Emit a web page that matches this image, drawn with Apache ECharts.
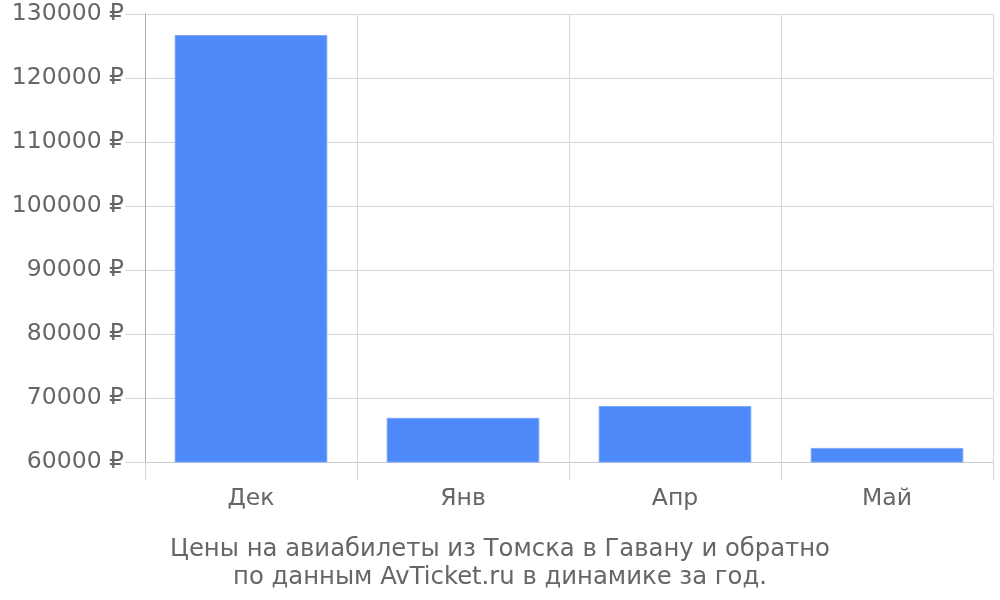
<!DOCTYPE html>
<html><head><meta charset="utf-8">
<script src="https://cdn.jsdelivr.net/npm/echarts@6/dist/echarts.min.js"></script>
<style>html,body{margin:0;padding:0;background:#fff}#c{width:1000px;height:600px}</style>
</head><body><div id="c"></div>
<script>
const categories = ['Дек', 'Янв', 'Апр', 'Май'];
const prices = [126700, 66900, 68750, 62200];
const yTicks = { min: 60000, max: 130000, interval: 10000 };
const titleLines = ['Цены на авиабилеты из Томска в Гавану и обратно', 'по данным AvTicket.ru в динамике за год.'];

const font = 'DejaVu Sans';
const chart = echarts.init(document.getElementById('c'), null, { renderer: 'canvas' });
chart.setOption({
  animation: false,
  backgroundColor: '#fff',
  title: {
    text: titleLines.join('\n'),
    left: 'center', top: 531,
    textStyle: { fontFamily: font, fontSize: 24.3, fontWeight: 'normal', color: '#666', lineHeight: 28 }
  },
  grid: { left: 145, right: 7, top: 14, bottom: 138, containLabel: false },
  xAxis: {
    type: 'category', data: categories, boundaryGap: true,
    axisLine: { show: true, lineStyle: { color: '#c8c8c8', width: 1 } },
    axisTick: { show: true, length: 18, alignWithLabel: false, lineStyle: { color: '#d8d8d8' } },
    axisLabel: { margin: 25, fontFamily: font, fontSize: 23.5, color: '#666' },
    splitLine: { show: true, lineStyle: { color: '#d8d8d8', width: 1 } }
  },
  yAxis: {
    type: 'value', min: yTicks.min, max: yTicks.max, interval: yTicks.interval,
    axisLine: { show: true, lineStyle: { color: '#aaa', width: 1 } },
    axisTick: { show: true, length: 20, lineStyle: { color: '#d8d8d8' } },
    axisLabel: { margin: 21, fontFamily: font, fontSize: 23.5, color: '#666', formatter: function (v) { return String(v) + ' ₽'; } },
    splitLine: { show: true, lineStyle: { color: '#d8d8d8', width: 1 } }
  },
  series: [{
    type: 'bar', data: prices, barCategoryGap: '28%',
    itemStyle: { color: '#4d89f9', borderColor: '#7aa6fb', borderWidth: 1 }
  }]
});
</script></body></html>
